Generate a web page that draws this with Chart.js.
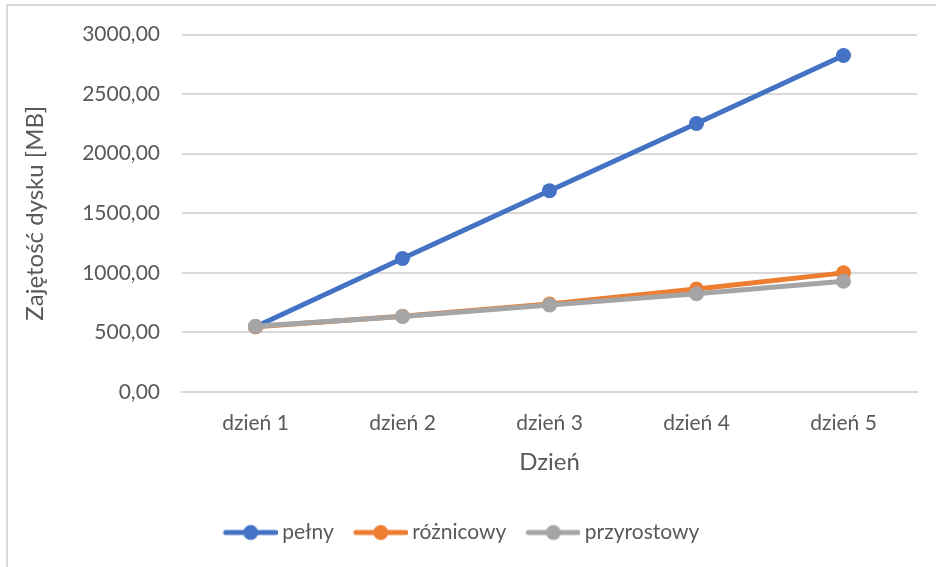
<!DOCTYPE html>
<html>
<head>
<meta charset="utf-8">
<script src="https://cdn.jsdelivr.net/npm/chart.js@4.4.1/dist/chart.umd.min.js"></script>
<style>
  html, body { margin: 0; padding: 0; background: #fff; }
  #wrap { position: relative; width: 936px; height: 567px; overflow: hidden; }
  #frame { position: absolute; left: 6px; top: 4px; width: 960px; height: 600px; border: 2px solid #d9d9d9; box-sizing: border-box; }
  #c { position: absolute; left: 0; top: 0; }
</style>
</head>
<body>
<div id="wrap">
  <div id="frame"></div>
  <canvas id="c" width="936" height="567"></canvas>
</div>
<script>
// values (MB)
const days = ['dzień 1', 'dzień 2', 'dzień 3', 'dzień 4', 'dzień 5'];
const pelny = [548, 1120, 1690, 2254, 2825];
const roznicowy = [548, 636, 738, 864, 1000];
const przyrostowy = [552, 634, 730, 825, 930];
const seriesNames = ['pełny', 'różnicowy', 'przyrostowy'];
const seriesColors = ['#4472c4', '#ed7d31', '#a5a5a5'];

const textColor = '#595959';
const fontFamily = 'Lato, "Liberation Sans", sans-serif';

// legend marker: line with a dot in the middle
function legendMarker(color){
    const cv = document.createElement('canvas');
    cv.width = 58;
    cv.height = 18;
    const g = cv.getContext('2d');
    g.strokeStyle = color;
    g.lineWidth = 5;
    g.lineCap = 'round';
    g.beginPath();
    g.moveTo(6, 9);
    g.lineTo(56, 9);
    g.stroke();
    g.fillStyle = color;
    g.beginPath();
    g.arc(31, 9, 7.5, 0, Math.PI * 2);
    g.fill();
    return cv;
}
const markers = seriesColors.map(legendMarker);

// later series are drawn on top, as in the original
const datasets = [pelny, roznicowy, przyrostowy].map(function(vals, i){
    return {
        label: seriesNames[i],
        data: vals,
        order: 3 - i,
        borderColor: seriesColors[i],
        backgroundColor: seriesColors[i],
        borderWidth: 5,
        pointRadius: 7.5,
        pointBorderWidth: 0,
        pointBackgroundColor: seriesColors[i],
        tension: 0
    };
});

new Chart(document.getElementById('c'), {
    type: 'line',
    data: { labels: days, datasets: datasets },
    options: {
        responsive: false,
        animation: false,
        layout: { padding: { left: 8, right: 19, top: 34, bottom: 14 } },
        plugins: {
            tooltip: { enabled: false },
            legend: {
                position: 'bottom',
                labels: {
                    color: textColor,
                    font: { family: fontFamily, size: 21 },
                    usePointStyle: true,
                    pointStyleWidth: 46,
                    padding: 22,
                    generateLabels: function(chart){
                        return chart.data.datasets.map(function(ds, i){
                            return {
                                text: ds.label,
                                pointStyle: markers[i],
                                fillStyle: ds.borderColor,
                                strokeStyle: ds.borderColor,
                                lineWidth: 0,
                                fontColor: textColor,
                                datasetIndex: i,
                                hidden: false
                            };
                        });
                    }
                }
            }
        },
        scales: {
            x: {
                offset: true,
                grid: { display: false, drawTicks: false },
                border: { display: true, color: '#d9d9d9', width: 2 },
                ticks: { color: textColor, font: { family: fontFamily, size: 21 }, padding: 19 },
                title: { display: true, text: 'Dzień', color: textColor, font: { family: fontFamily, size: 24 }, padding: { top: 0, bottom: 23 } },
                afterFit: function(scale){ scale.height = 108; }
            },
            y: {
                min: 0,
                max: 3000,
                ticks: {
                    stepSize: 500,
                    color: textColor,
                    font: { family: fontFamily, size: 21 },
                    padding: 22,
                    callback: function(v){ return v.toFixed(2).replace('.', ','); }
                },
                grid: { color: '#d9d9d9', lineWidth: 2, drawTicks: false },
                border: { display: false },
                title: { display: true, text: 'Zajętość dysku [MB]', color: textColor, font: { family: fontFamily, size: 24 }, padding: { top: 13, bottom: 0 } },
                afterFit: function(scale){ scale.width = 174; }
            }
        }
    }
});
</script>
</body>
</html>
